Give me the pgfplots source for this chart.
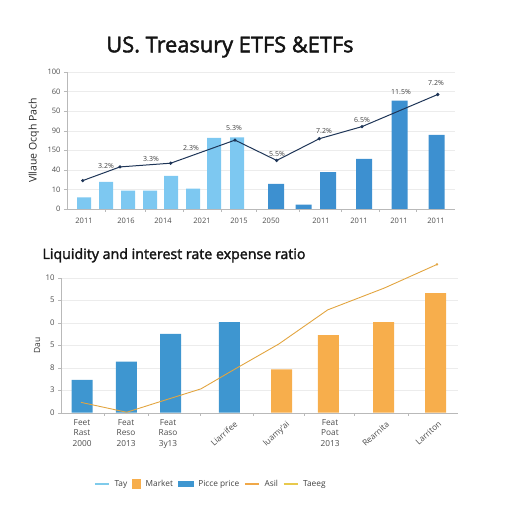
\documentclass[border=0pt]{standalone}
\usepackage{fontspec}
\setmainfont{Open Sans}
\newfontfamily\titlefont[BoldFont={Open Sans}, BoldFeatures={FakeBold=2}]{Open Sans}
\usepackage{pgfplots}
\pgfplotsset{compat=1.18}
\definecolor{lblue}{HTML}{7DC8F1}
\definecolor{dblue}{HTML}{3D90D0}
\definecolor{navy}{HTML}{1E3557}
\definecolor{bblue}{HTML}{3E96D0}
\definecolor{borange}{HTML}{F7AE4C}
\definecolor{gline}{HTML}{E2A540}
\definecolor{tayc}{HTML}{7FCBEB}
\definecolor{asilc}{HTML}{F0A848}
\definecolor{taeegc}{HTML}{E8C94C}
\begin{document}
\begin{tikzpicture}[x=1pt,y=1pt]
\path[use as bounding box] (0,0) rectangle (512,512);
\node[font=\titlefont\bfseries\fontsize{21.8}{25}\selectfont, text=black!92] at (230,465) {US. Treasury ETFS \&ETFs};
\node[font=\titlefont\bfseries\fontsize{14.2}{17}\selectfont, anchor=base west, text=black!92] at (39,253) {Liquidity and interest rate expense ratio};
% ---------------- top axis
\begin{axis}[
 at={(67pt,303pt)}, anchor=south west,
 width=388pt, height=137pt, scale only axis,
 xmin=67, xmax=455, ymin=0, ymax=70,
 axis lines*=left, axis line style={draw=gray!55},
 ytick={0,10,...,70}, yticklabels={0,10,40,150,90,50,60,100},
 ymajorgrids, grid style={draw=gray!15},
 xtick={84,126,163,202,239,271,321,359,399,436},
 xticklabels={2011,2016,2014,2021,2015,2050,2011,2011,2011,2011},
 xticklabel style={yshift=-3pt},
 major x tick style={draw=none},
 minor xtick={105,145,183,221,256,299,341,379,416,456},
 minor x tick style={draw=gray!55},
 minor tick length=3pt, major tick length=3pt,
 tick style={draw=gray!55},
 tick align=outside,
 ticklabel style={font=\fontsize{7.5}{9}\selectfont, text=black!70},
 ylabel={Vllaue Ocqh Pach},
 ylabel style={font=\fontsize{10.5}{12}\selectfont, text=black!85, at={(axis description cs:-0.085,0.5)}, anchor=center},
 clip=false,
]
\addplot[ybar, bar width=14, bar shift=0pt, fill=lblue, draw=none] coordinates {
(84,6.0) (106,13.8) (128,9.4) (150,9.4) (171,16.9) (193,10.4) (214,36.4) (237,36.6)};
\addplot[ybar, bar width=16, bar shift=0pt, fill=dblue, draw=none] coordinates {
(276,12.8) (303.5,2.2) (328,18.8) (364,25.6) (399.5,55.4) (436.5,37.9)};
\addplot[navy, line width=1pt, mark=*, mark size=1.1pt] coordinates {
(82.7,14.5) (120,21.5) (170.7,23.4) (235,35.2) (276.7,24.8) (319.3,35.9) (362,42.1) (437.7,58.5)};
\addplot[draw=none, mark=none, nodes near coords, point meta=explicit symbolic,
 every node near coord/.append style={anchor=center, font=\fontsize{7}{8}\selectfont, text=black!75}] coordinates {
(106,22.1)[3.2\%] (151,25.6)[3.3\%] (191,31.3)[2.3\%] (234,41.5)[5.3\%] (277,28.2)[5.5\%]
(324,40)[7.2\%] (362,45.6)[6.5\%] (401,60)[11.5\%] (436,64.6)[7.2\%]};
\end{axis}
% ---------------- bottom axis
\begin{axis}[
 at={(61pt,99.3pt)}, anchor=south west,
 width=396.7pt, height=135pt, scale only axis,
 xmin=61, xmax=457.7, ymin=0, ymax=6,
 axis lines*=left, axis line style={draw=gray!55},
 ytick={0,1,...,6}, yticklabels={0,3,8,5,0,5,10},
 ymajorgrids, grid style={draw=gray!15},
 xtick={82,126,168,330},
 xticklabels={{Feet\\Rast\\2000},{Feat\\Reso\\2013},{Feat\\Raso\\3y13},{Feat\\Poat\\2013}},
 xticklabel style={align=center, font=\fontsize{8.3}{10.5}\selectfont},
 extra x ticks={234,286,386,438},
 extra x tick labels={Liarrifee,luamy'ai,Rearnita,Larriton},
 extra x tick style={xticklabel style={rotate=42, anchor=north east, font=\fontsize{8.3}{9}\selectfont}},
 major x tick style={draw=none},
 minor xtick={104,148,200,253,304,354,408,458},
 minor x tick style={draw=gray!55},
 minor tick length=3pt, major tick length=3pt,
 tick style={draw=gray!55},
 tick align=outside,
 ticklabel style={font=\fontsize{7.8}{9}\selectfont, text=black!70},
 ylabel={Dau},
 ylabel style={font=\fontsize{8.5}{10}\selectfont, text=black!80, at={(axis description cs:-0.06,0.5)}, anchor=center},
 clip=false,
 legend columns=5,
 legend style={at={(axis description cs:0.378,-0.528)}, anchor=center, draw=none, fill=none,
   font=\fontsize{8.3}{10}\selectfont, text=black!75, column sep=3pt},
]
\addplot[ybar, bar width=21, bar shift=0pt, fill=bblue, draw=none, forget plot] coordinates {
(82,1.46) (126.3,2.27) (170.5,3.5) (229.3,4.03)};
\addplot[ybar, bar width=21, bar shift=0pt, fill=borange, draw=none, forget plot] coordinates {
(281.7,1.93) (328.3,3.45) (383.7,4.03) (435.7,5.32)};
\addplot[gline, line width=0.9pt, mark=none, forget plot] coordinates {
(81,0.46) (126.7,0.02) (160,0.49) (201,1.06) (237.3,2.0) (278.7,3.05) (327.7,4.57) (384.3,5.54) (437,6.59)};
\addplot[gline, only marks, mark=*, mark size=1pt, forget plot] coordinates {(437,6.59)};
\addlegendimage{legend image code/.code={\draw[tayc, line width=1.2pt] (0pt,0pt) -- (14pt,0pt);}}
\addlegendentry{Tay}
\addlegendimage{legend image code/.code={\fill[borange] (2pt,-4pt) rectangle (10pt,5pt);}}
\addlegendentry{Market}
\addlegendimage{legend image code/.code={\fill[bblue] (0pt,-2.5pt) rectangle (15pt,2.5pt);}}
\addlegendentry{Picce price}
\addlegendimage{legend image code/.code={\draw[asilc, line width=1.2pt] (0pt,0pt) -- (14pt,0pt);}}
\addlegendentry{Asil}
\addlegendimage{legend image code/.code={\draw[taeegc, line width=1.2pt] (0pt,0pt) -- (14pt,0pt);}}
\addlegendentry{Taeeg}
\end{axis}
\end{tikzpicture}
\end{document}
